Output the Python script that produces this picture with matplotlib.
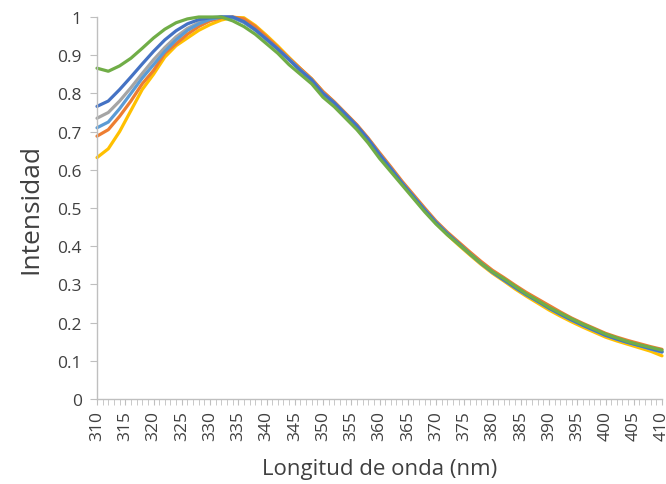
import numpy as np
import matplotlib
matplotlib.use("Agg")
import matplotlib.pyplot as plt
from matplotlib.ticker import MultipleLocator

wavelength = list(range(310, 411, 2))

blue = [0.766, 0.780, 0.810, 0.843, 0.877, 0.910, 0.940, 0.964, 0.982, 0.993,
        0.998, 1.000, 1.000, 0.988, 0.967, 0.942, 0.916, 0.888, 0.860, 0.835,
        0.800, 0.775, 0.745, 0.715, 0.680, 0.640, 0.603, 0.565, 0.530, 0.495,
        0.462, 0.433, 0.407, 0.380, 0.355, 0.332, 0.312, 0.292, 0.273, 0.256,
        0.238, 0.222, 0.207, 0.193, 0.180, 0.167, 0.157, 0.148, 0.140, 0.132, 0.124]
orange = [0.688, 0.705, 0.740, 0.780, 0.825, 0.860, 0.905, 0.930, 0.955, 0.975,
          0.990, 0.998, 1.000, 0.995, 0.975, 0.948, 0.920, 0.892, 0.865, 0.838,
          0.805, 0.778, 0.748, 0.718, 0.683, 0.645, 0.608, 0.570, 0.535, 0.500,
          0.466, 0.437, 0.411, 0.385, 0.360, 0.337, 0.318, 0.298, 0.279, 0.262,
          0.245, 0.228, 0.212, 0.198, 0.185, 0.172, 0.162, 0.153, 0.145, 0.137, 0.130]
gray = [0.735, 0.750, 0.780, 0.815, 0.852, 0.888, 0.920, 0.948, 0.970, 0.985,
        0.995, 1.000, 0.999, 0.986, 0.966, 0.941, 0.916, 0.889, 0.861, 0.835,
        0.800, 0.775, 0.745, 0.714, 0.679, 0.640, 0.603, 0.565, 0.530, 0.495,
        0.462, 0.433, 0.406, 0.380, 0.355, 0.332, 0.312, 0.292, 0.273, 0.256,
        0.238, 0.222, 0.207, 0.193, 0.180, 0.167, 0.157, 0.148, 0.140, 0.131, 0.123]
yellow = [0.632, 0.655, 0.700, 0.755, 0.810, 0.850, 0.895, 0.925, 0.945, 0.965,
          0.980, 0.992, 0.999, 0.998, 0.978, 0.952, 0.924, 0.894, 0.865, 0.838,
          0.804, 0.777, 0.747, 0.716, 0.681, 0.642, 0.604, 0.566, 0.530, 0.494,
          0.460, 0.430, 0.403, 0.377, 0.352, 0.329, 0.309, 0.288, 0.269, 0.251,
          0.233, 0.217, 0.202, 0.188, 0.175, 0.162, 0.152, 0.143, 0.134, 0.125, 0.113]
lightblue = [0.710, 0.725, 0.760, 0.800, 0.840, 0.875, 0.910, 0.940, 0.965, 0.982,
             0.994, 1.000, 0.999, 0.986, 0.966, 0.941, 0.916, 0.889, 0.861, 0.835,
             0.800, 0.775, 0.745, 0.714, 0.679, 0.640, 0.603, 0.565, 0.530, 0.495,
             0.462, 0.433, 0.406, 0.380, 0.355, 0.332, 0.312, 0.292, 0.273, 0.256,
             0.238, 0.222, 0.207, 0.193, 0.180, 0.167, 0.157, 0.148, 0.140, 0.131, 0.123]
green = [0.866, 0.858, 0.872, 0.892, 0.918, 0.945, 0.968, 0.985, 0.995, 1.000,
         1.000, 1.000, 0.990, 0.975, 0.955, 0.930, 0.905, 0.875, 0.850, 0.825,
         0.790, 0.765, 0.735, 0.705, 0.670, 0.630, 0.595, 0.560, 0.525, 0.490,
         0.458, 0.430, 0.405, 0.380, 0.355, 0.333, 0.315, 0.295, 0.275, 0.258,
         0.240, 0.225, 0.210, 0.196, 0.183, 0.170, 0.160, 0.150, 0.142, 0.135, 0.128]

xticks = list(range(310, 411, 5))
yticks = [0, 0.1, 0.2, 0.3, 0.4, 0.5, 0.6, 0.7, 0.8, 0.9, 1]
ytick_labels = ["0", "0.1", "0.2", "0.3", "0.4", "0.5", "0.6", "0.7", "0.8", "0.9", "1"]

plt.rcParams['font.family'] = ['Open Sans', 'DejaVu Sans']

fig = plt.figure(figsize=(6.66, 4.85), dpi=100)
ax = fig.add_axes([97/666, 85/485, 565/666, 382/485])

series = [(yellow, '#FFC000'), (orange, '#ED7D31'), (gray, '#A5A5A5'),
          (lightblue, '#5B9BD5'), (blue, '#4472C4'), (green, '#70AD47')]
for vals, col in series:
    ax.plot(wavelength, vals, color=col, lw=2.3, solid_capstyle='round', clip_on=False)

ax.set_xlim(310, 410)
ax.set_ylim(0, 1)
ax.set_xticks(xticks)
ax.set_xticklabels([str(t) for t in xticks], rotation=90)
ax.xaxis.set_minor_locator(MultipleLocator(1))
ax.set_yticks(yticks)
ax.set_yticklabels(ytick_labels)

for s in ['top', 'right']:
    ax.spines[s].set_visible(False)
for s in ['left', 'bottom']:
    ax.spines[s].set_color('#BFBFBF')
    ax.spines[s].set_linewidth(1.0)

ax.tick_params(axis='both', which='both', color='#BFBFBF', direction='out',
               labelcolor='#404040', labelsize=12.5)
ax.tick_params(axis='y', which='major', length=5, pad=6)
ax.tick_params(axis='x', which='major', length=4, pad=4)
ax.tick_params(axis='x', which='minor', length=4)

ax.set_xlabel('Longitud de onda (nm)', fontsize=16, color='#404040', labelpad=13)
ax.set_ylabel('Intensidad', fontsize=19, color='#404040', labelpad=10)

fig.savefig('out.png', dpi=100)
